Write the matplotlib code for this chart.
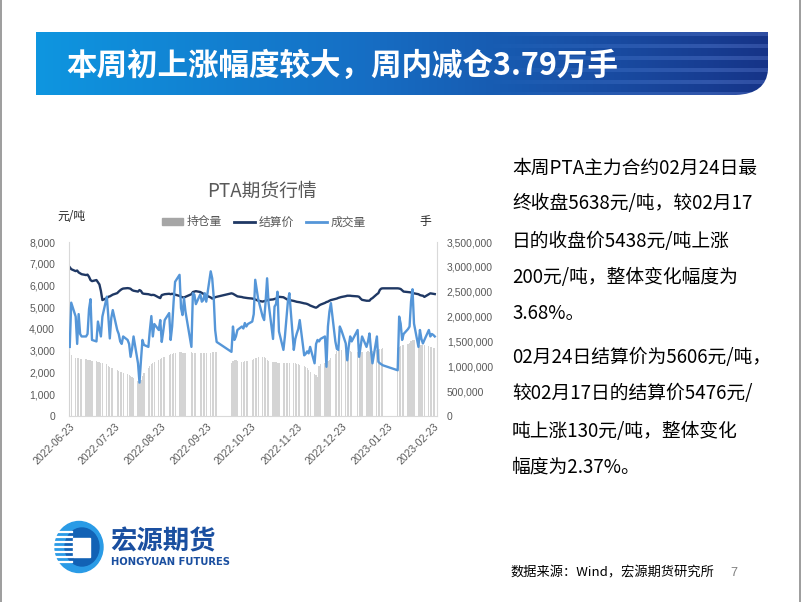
"""
PTA futures weekly slide: price / volume / open interest chart with commentary.
"""
import numpy as np
import pandas as pd
import matplotlib
matplotlib.use("Agg")
import matplotlib.pyplot as plt
from matplotlib.path import Path
from matplotlib.patches import PathPatch, Patch, Ellipse, Rectangle
from matplotlib.lines import Line2D
from matplotlib.ticker import FuncFormatter, MultipleLocator

plt.rcParams["font.family"] = ["Noto Sans CJK SC", "DejaVu Sans"]

# ──────────────────────────────────────────────────────────────────────────────
# Data
# ──────────────────────────────────────────────────────────────────────────────
HOLIDAYS = ["2022-09-12", "2022-10-03", "2022-10-04", "2022-10-05", "2022-10-06",
            "2022-10-07", "2023-01-02", "2023-01-23", "2023-01-24", "2023-01-25",
            "2023-01-26", "2023-01-27"]

# settlement price, yuan/ton (one list per month)
price_jun = [6840, 6750, 6660, 6690, 6600, 6560]
price_jul = [6520, 6480, 6500, 6400, 6250, 6200, 6250, 6150, 6050, 5750, 5330,
             5420, 5480, 5500, 5540, 5580, 5650, 5720, 5780, 5830, 5860]
price_aug = [5880, 5870, 5850, 5790, 5760, 5720, 5790, 5750, 5640, 5620, 5600,
             5580, 5560, 5570, 5560, 5450, 5420, 5560, 5580, 5600, 5620, 5600, 5620]
price_sep = [5600, 5580, 5520, 5480, 5460, 5450, 5480, 5600, 5700, 5720, 5740,
             5700, 5660, 5620, 5580, 5540, 5450, 5400, 5420, 5460, 5480]
price_oct = [5640, 5620, 5580, 5540, 5500, 5470, 5450, 5440, 5430, 5420, 5400,
             5380, 5360, 5330, 5300, 5260]
price_nov = [5280, 5300, 5320, 5340, 5360, 5380, 5400, 5420, 5480, 5460, 5420,
             5380, 5340, 5330, 5290, 5270, 5250, 5240, 5230, 5180, 5170, 5150]
price_dec = [5120, 5080, 5000, 4980, 5020, 5080, 5120, 5200, 5240, 5260, 5300,
             5330, 5380, 5400, 5430, 5450, 5470, 5510, 5530, 5530, 5530, 5520]
price_jan = [5500, 5480, 5400, 5340, 5300, 5300, 5300, 5380, 5420, 5600, 5650,
             5800, 5860, 5870, 5870, 5860]
price_feb = [5840, 5780, 5720, 5700, 5690, 5680, 5660, 5640, 5600, 5560, 5540,
             5530, 5476, 5600, 5640, 5630, 5620, 5606]

# volume, 10k lots
vol_jun = [139, 228, 200, 145, 205, 165]
vol_jul = [160, 160, 165, 215, 235, 153, 150, 190, 175, 160, 200, 240, 200, 156,
           197, 213, 173, 165, 150, 145, 160]
vol_aug = [153, 145, 119, 135, 160, 106, 67, 112, 153, 143, 139, 173, 201, 160,
           185, 173, 193, 149, 170, 193, 207, 153, 180]
vol_sep = [230, 270, 284, 217, 203, 237, 210, 139, 247, 244, 225, 245, 230, 233,
           247, 230, 291, 277, 240, 173, 149]
vol_oct = [129, 180, 153, 160, 173, 180, 176, 187, 180, 185, 190, 205, 274, 255,
           235, 200]
vol_nov = [193, 230, 277, 227, 155, 220, 225, 250, 170, 133, 160, 195, 230, 247,
           133, 155, 166, 175, 193, 122, 125, 130]
vol_dec = [126, 139, 106, 145, 153, 150, 155, 160, 99, 180, 210, 227, 150, 135,
           133, 180, 173, 146, 112, 140, 160, 150]
vol_jan = [173, 119, 140, 160, 139, 150, 166, 133, 106, 160, 109, 106, 104, 102,
           92, 200]
vol_feb = [186, 153, 165, 175, 180, 230, 255, 186, 139, 173, 155, 146, 153, 173,
           160, 165, 163, 160]

# open interest, 10k lots
oi_jun = [129, 122, 117, 116, 116, 115]
oi_jul = [115, 114, 113, 112, 112, 111, 110, 109, 108, 107, 106, 104, 100, 98,
          97, 96, 92, 90, 89, 88, 87]
oi_aug = [84, 82, 80, 78, 76, 70, 65, 72, 80, 86, 97, 100, 104, 106, 108, 112,
          114, 116, 118, 119, 122, 124, 125]
oi_sep = [126, 127, 129, 128, 127, 127, 126, 128, 127, 126, 126, 127, 126, 126,
          127, 126, 127, 128, 128, 129, 129]
oi_oct = [106, 110, 112, 112, 110, 109, 109, 110, 110, 111, 112, 114, 116, 117,
          118, 119]
oi_nov = [118, 116, 113, 110, 109, 108, 108, 107, 107, 106, 106, 106, 106, 106,
          106, 106, 105, 104, 103, 100, 99, 97]
oi_dec = [92, 89, 85, 82, 79, 100, 104, 107, 109, 111, 113, 116, 125, 131, 133,
          133, 133, 133, 132, 131, 130, 128]
oi_jan = [128, 127, 127, 128, 129, 130, 129, 130, 131, 132, 133, 134, 135, 136,
          137, 139]
oi_feb = [141, 142, 143, 145, 146, 150, 152, 153, 143, 142, 142, 143, 143, 140,
          139, 138, 137, 136]

TITLE = "本周初上涨幅度较大，周内减仓3.79万手"
CHART_TITLE = "PTA期货行情"
SERIES_LABELS = ["持仓量", "结算价", "成交量"]
NOTE_LINES = ["本周PTA主力合约02月24日最",
              "终收盘5638元/吨，较02月17",
              "日的收盘价5438元/吨上涨",
              "200元/吨，整体变化幅度为",
              "3.68%。",
              "02月24日结算价为5606元/吨，",
              "较02月17日的结算价5476元/",
              "吨上涨130元/吨，整体变化",
              "幅度为2.37%。"]
SOURCE = "数据来源：Wind，宏源期货研究所"

# ──────────────────────────────────────────────────────────────────────────────
# Assemble series
# ──────────────────────────────────────────────────────────────────────────────
days = pd.bdate_range("2022-06-23", "2023-02-24")
days = days[~days.isin(pd.to_datetime(HOLIDAYS))]

price = np.array(price_jun + price_jul + price_aug + price_sep + price_oct
                 + price_nov + price_dec + price_jan + price_feb, dtype=float)
volume = np.array(vol_jun + vol_jul + vol_aug + vol_sep + vol_oct + vol_nov
                  + vol_dec + vol_jan + vol_feb, dtype=float) * 1e4
oi = np.array(oi_jun + oi_jul + oi_aug + oi_sep + oi_oct + oi_nov + oi_dec
              + oi_jan + oi_feb, dtype=float) * 1e4
assert len(days) == len(price) == len(volume) == len(oi)

# ──────────────────────────────────────────────────────────────────────────────
# Figure
# ──────────────────────────────────────────────────────────────────────────────
W, H = 802, 602
DARK = "#1f3864"
LIGHT = "#5596d8"
GREY_TXT = "#595959"

fig = plt.figure(figsize=(W / 100, H / 100), dpi=100)


def px_rect(x0, y0, x1, y1):
    return [x0 / W, 1 - y1 / H, (x1 - x0) / W, (y1 - y0) / H]


bg = fig.add_axes([0, 0, 1, 1])
bg.set_xlim(0, W)
bg.set_ylim(H, 0)
bg.axis("off")

# slide frame
bg.plot([0.5, 0.5], [0, H], color="#8c8c8c", lw=1.2)
bg.plot([799.5, 799.5], [0, H], color="#8c8c8c", lw=1.2)

# title banner (gradient, light stripes on the right, rounded tail)
bw, bh = 732, 63
t = np.linspace(0, 1, bw)
stop_t = [0.0, 0.45, 0.8, 1.0]
stop_c = np.array([[14, 150, 224], [22, 110, 196], [25, 74, 160], [22, 52, 136]]) / 255
rgb = np.stack([np.interp(t, stop_t, stop_c[:, k]) for k in range(3)], axis=-1)
img = np.repeat(rgb[None, :, :], bh, axis=0)
rows = np.arange(bh)[:, None]
stripe = ((rows % 12) < 4).astype(float)
ramp = np.clip((t - 0.62) / 0.3, 0, 1)[None, :]
img = np.clip(img + (stripe * ramp)[..., None] * 0.10, 0, 1)
im = bg.imshow(img, extent=(36, 768, 95, 32), aspect="auto", zorder=1)
verts = [(36, 32), (768, 32), (768, 70), (766, 94), (736, 95), (36, 95), (36, 32)]
codes = [Path.MOVETO, Path.LINETO, Path.LINETO, Path.CURVE3, Path.CURVE3,
         Path.LINETO, Path.CLOSEPOLY]
clip = PathPatch(Path(verts, codes), transform=bg.transData,
                 facecolor="none", edgecolor="none")
bg.add_patch(clip)
im.set_clip_path(clip)
bg.text(66, 66, TITLE, color="white", fontsize=22, fontweight="bold",
        va="center", ha="left", zorder=3)

# chart title, unit labels
bg.text(262, 191, CHART_TITLE, color=GREY_TXT, fontsize=13.5, ha="center", va="center")
bg.text(57, 217, "元/吨", color="#262626", fontsize=8.5, ha="left", va="center")
bg.text(425, 222, "手", color="#262626", fontsize=8.5, ha="center", va="center")

# ──────────────────────────────────────────────────────────────────────────────
# Chart
# ──────────────────────────────────────────────────────────────────────────────
ax = fig.add_axes(px_rect(69, 242, 437, 416))
ax2 = ax.twinx()

ax2.bar(days, oi, width=0.8, color="#d4d4d4", zorder=1)
ax.plot(days, price, color=DARK, lw=1.7, solid_joinstyle="round")
ax2.plot(days, volume, color=LIGHT, lw=1.7, solid_joinstyle="round", zorder=3)

ax.set_xlim(pd.Timestamp("2022-06-22 12:00"), pd.Timestamp("2023-02-25 12:00"))
ax.set_ylim(0, 8000)
ax2.set_ylim(0, 3.5e6)
ax.yaxis.set_major_locator(MultipleLocator(1000))
ax2.yaxis.set_major_locator(MultipleLocator(500000))
comma = FuncFormatter(lambda v, _: f"{v:,.0f}")
ax.yaxis.set_major_formatter(comma)
ax2.yaxis.set_major_formatter(comma)

tick_days = pd.date_range("2022-06-23", periods=9, freq=pd.DateOffset(months=1))
ax.set_xticks(tick_days)
ax.set_xticklabels([d.strftime("%Y-%m-%d") for d in tick_days], rotation=45,
                   ha="right", rotation_mode="anchor")

for a in (ax, ax2):
    a.patch.set_visible(False)
    a.spines["top"].set_visible(False)
    for s in ("left", "right", "bottom"):
        a.spines[s].set_color("#d9d9d9")
ax.spines["right"].set_visible(False)
ax2.spines["left"].set_visible(False)
ax2.spines["bottom"].set_visible(False)

ax.tick_params(axis="x", length=0, pad=4, labelsize=7.5, labelcolor=GREY_TXT)
ax.tick_params(axis="y", length=0, pad=10, labelsize=7.5, labelcolor=GREY_TXT)
ax2.tick_params(axis="y", length=0, pad=7, labelsize=7.5, labelcolor=GREY_TXT)
for lab in ax.get_xticklabels() + ax.get_yticklabels() + ax2.get_yticklabels():
    lab.set_fontfamily(["Liberation Sans", "DejaVu Sans"])

handles = [Patch(color="#a6a6a6"),
           Line2D([], [], color=DARK, lw=2),
           Line2D([], [], color=LIGHT, lw=2)]
fig.legend(handles, SERIES_LABELS, loc="center", bbox_to_anchor=(264 / W, 1 - 222 / H),
           ncol=3, frameon=False, fontsize=8.5, labelcolor=GREY_TXT,
           handlelength=1.8, handleheight=0.55, handletextpad=0.3, columnspacing=1.0)

# ──────────────────────────────────────────────────────────────────────────────
# Commentary, logo, footer
# ──────────────────────────────────────────────────────────────────────────────
NOTE_Y = [168, 204, 241, 277, 313, 357, 394, 431, 467]
for line, y in zip(NOTE_LINES, NOTE_Y):
    bg.text(512, y, line, fontsize=13.5, color="black", ha="left", va="center")

# logo mark
bg.add_patch(Ellipse((79, 547), 48, 51, color="#2a9be6", zorder=2))
bg.add_patch(Ellipse((82, 547), 34, 38, color="#1262b5", zorder=2))
bg.add_patch(Rectangle((73, 538), 17, 19, color="white", zorder=3))
for yy in (532, 537, 542, 547, 552, 557, 562):
    bg.plot([54, 72], [yy, yy], color="white", lw=1.6, zorder=4)
bg.text(110, 542, "宏源期货", color="#1a4fa0", fontsize=19, fontweight="heavy",
        ha="left", va="center")
bg.text(111, 562, "HONGYUAN FUTURES", color="#1a4fa0", fontsize=7.2, fontweight="bold",
        ha="left", va="center", family=["DejaVu Sans"])

bg.text(510, 573, SOURCE, fontsize=9.5, color="black", ha="left", va="center")
bg.text(734, 573, "7", fontsize=9, color="#7f7f7f", ha="center", va="center",
        family=["Liberation Sans"])

fig.savefig("out.png", dpi=100)
